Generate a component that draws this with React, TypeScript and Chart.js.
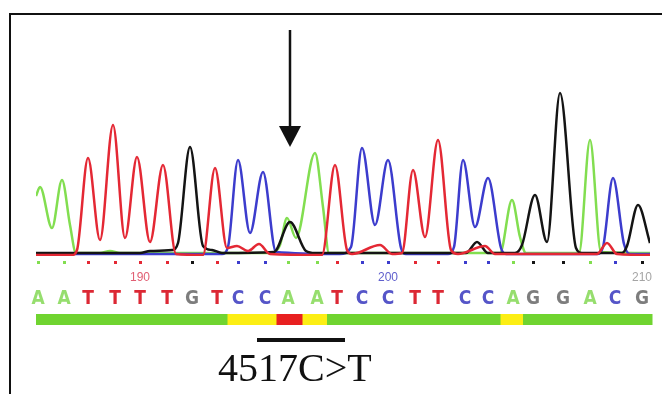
import React, { useEffect, useRef } from "react";
import { Chart, registerables } from "chart.js";

Chart.register(...registerables);

// ---- data ----
const bases = ["A","A","T","T","T","T","G","T","C","C","A","A","T","C","C","T","T","C","C","A","G","G","A","C","G"];
// base-call positions in scan units
const basePositions = [2, 28, 52, 79, 104, 131, 156, 181, 202, 229, 252, 281, 301, 326, 352, 379, 402, 429, 452, 477, 497, 527, 554, 579, 606];
const quality = ["g","g","g","g","g","g","g","g","y","y","r","y","g","g","g","g","g","g","g","y","g","g","g","g","g"];
const tickBaseIndex = [4, 14, 24];
const tickLabels = ["190", "200", "210"];

// traces (scan position, intensity)
const traceAx = [0, 4, 16, 26, 34, 40, 64, 74, 84, 234, 244, 251, 260, 279, 287, 293, 464, 476, 484, 490, 543, 554, 565, 614];
const traceAy = [59, 68, 27, 75, 30, 2, 2, 4, 2, 2, 10, 37, 17, 102, 48, 2, 2, 55, 18, 2, 2, 115, 3, 2];

const traceTx = [0, 36, 41, 52, 64, 77, 89, 101, 114, 127, 140, 167, 179, 191, 201, 212, 223, 234, 286, 299, 311, 316, 344, 356, 366, 377, 389, 402, 415, 422, 449, 459, 561, 571, 581, 614];
const traceTy = [0, 0, 5, 97, 15, 130, 17, 98, 13, 90, 1, 0, 87, 7, 9, 4, 11, 1, 0, 90, 5, 1, 10, 1, 2, 85, 18, 115, 5, 1, 9, 1, 1, 12, 1, 0];

const traceCx = [0, 186, 192, 202, 214, 227, 240, 304, 315, 326, 339, 352, 365, 370, 412, 418, 427, 439, 452, 465, 470, 561, 567, 577, 588, 594, 614];
const traceCy = [1, 1, 8, 95, 22, 83, 3, 1, 8, 107, 30, 95, 7, 1, 1, 8, 95, 28, 77, 7, 1, 1, 8, 77, 11, 1, 1];

const traceGx = [0, 104, 114, 136, 142, 154, 167, 176, 186, 238, 254, 270, 279, 430, 441, 452, 479, 486, 499, 511, 524, 540, 546, 586, 591, 602, 614];
const traceGy = [2, 2, 4, 5, 12, 108, 9, 5, 2, 3, 33, 4, 2, 2, 13, 2, 2, 10, 60, 13, 162, 7, 2, 2, 9, 50, 12];

const arrowScan = 254;
const markStart = 221;
const markEnd = 309;
const captionStart = 182;
const captionText = "4517C>T";

// ---- styles ----
const traceColor: Record<string, string> = {
  A: "rgb(130,222,80)",
  T: "rgb(228,40,52)",
  C: "rgb(60,60,205)",
  G: "rgb(20,20,20)",
};
const letterColor: Record<string, string> = {
  A: "rgb(150,222,110)",
  T: "rgb(220,40,52)",
  C: "rgb(85,85,200)",
  G: "rgb(125,125,125)",
};
const tickColors = ["rgb(225,95,115)", "rgb(95,95,205)", "rgb(165,165,165)"];
const qualityColor: Record<string, string> = {
  g: "rgb(112,212,48)",
  y: "rgb(252,238,20)",
  r: "rgb(232,32,32)",
};

const pts = (xs: number[], ys: number[]) => xs.map((x, i) => ({ x, y: ys[i] }));

const overlayPlugin = {
  id: "overlay",
  beforeDraw(chart: any) {
    const ctx = chart.ctx;
    ctx.save();
    ctx.fillStyle = "#fff";
    ctx.fillRect(0, 0, chart.width, chart.height);
    ctx.strokeStyle = "#111";
    ctx.lineWidth = 2;
    ctx.strokeRect(10, 14, chart.width + 10, chart.height + 10);
    ctx.restore();
  },
  afterDraw(chart: any) {
    const ctx = chart.ctx;
    const area = chart.chartArea;
    const xs = chart.scales.x;
    const b = area.bottom;
    ctx.save();
    // base call dots
    basePositions.forEach((p, i) => {
      ctx.fillStyle = traceColor[bases[i]];
      ctx.fillRect(Math.round(xs.getPixelForValue(p)) - 1, b + 5, 3, 3);
    });
    // letters
    ctx.font = 'bold 19px "Liberation Sans Narrow", "DejaVu Sans Condensed", sans-serif';
    ctx.textAlign = "center";
    ctx.textBaseline = "middle";
    basePositions.forEach((p, i) => {
      ctx.fillStyle = letterColor[bases[i]];
      ctx.fillText(bases[i], xs.getPixelForValue(p), b + 43);
    });
    // quality bar
    const px = basePositions.map((p) => xs.getPixelForValue(p));
    px.forEach((p, i) => {
      const left = i === 0 ? area.left : (px[i - 1] + p) / 2;
      const right = i === px.length - 1 ? Math.min(p + 11, area.right + 2) : (p + px[i + 1]) / 2;
      ctx.fillStyle = qualityColor[quality[i]];
      ctx.fillRect(left, b + 58, right - left + 0.5, 11);
    });
    // arrow
    const ax = Math.round(xs.getPixelForValue(arrowScan));
    ctx.strokeStyle = "#111";
    ctx.lineWidth = 2.5;
    ctx.beginPath();
    ctx.moveTo(ax, 30);
    ctx.lineTo(ax, 128);
    ctx.stroke();
    ctx.fillStyle = "#111";
    ctx.beginPath();
    ctx.moveTo(ax - 11, 126);
    ctx.lineTo(ax + 11, 126);
    ctx.lineTo(ax, 147);
    ctx.closePath();
    ctx.fill();
    // underline
    const u1 = xs.getPixelForValue(markStart);
    const u2 = xs.getPixelForValue(markEnd);
    ctx.fillRect(u1, 338, u2 - u1, 4);
    // caption
    ctx.font = '40px "Liberation Serif", "Times New Roman", serif';
    ctx.textAlign = "left";
    ctx.textBaseline = "alphabetic";
    ctx.fillStyle = "#111";
    ctx.fillText(captionText, xs.getPixelForValue(captionStart), 381);
    ctx.restore();
  },
};

export default function App() {
  const ref = useRef<HTMLCanvasElement>(null);
  useEffect(() => {
    if (!ref.current) return;
    const mk = (key: string, xs: number[], ys: number[]) => ({
      label: key,
      data: pts(xs, ys),
      borderColor: traceColor[key],
      borderWidth: 2.5,
      pointRadius: 0,
      fill: false,
      cubicInterpolationMode: "monotone" as const,
    });
    const chart = new Chart(ref.current, {
      type: "line",
      data: {
        datasets: [
          mk("T", traceTx, traceTy),
          mk("G", traceGx, traceGy),
          mk("C", traceCx, traceCy),
          mk("A", traceAx, traceAy),
        ],
      },
      options: {
        animation: false,
        responsive: false,
        events: [],
        layout: { padding: { left: 36, right: 12, top: 56, bottom: 58 } },
        plugins: {
          legend: { display: false },
          tooltip: { enabled: false },
          title: { display: false },
        },
        scales: {
          x: {
            type: "linear",
            min: 0,
            max: 614,
            grid: { display: false, drawTicks: false },
            border: { display: false },
            afterBuildTicks: (s: any) => {
              s.ticks = tickBaseIndex.map((i) => ({ value: basePositions[i] }));
            },
            afterFit: (s: any) => {
              s.height = 80;
              s.paddingLeft = 0;
              s.paddingRight = 0;
            },
            ticks: {
              autoSkip: false,
              maxRotation: 0,
              padding: 14,
              font: { family: '"Liberation Sans Narrow", "Liberation Sans", sans-serif', size: 12 },
              color: (c: any) => tickColors[c.index] || "#999",
              callback: (_v: any, i: number) => tickLabels[i],
            },
          },
          y: { display: false, min: -1, max: 199 },
        },
      },
      plugins: [overlayPlugin],
    });
    return () => chart.destroy();
  }, []);
  return (
    <div style={{ position: "absolute", left: 0, top: 0, width: 662, height: 394, background: "#fff" }}>
      <canvas ref={ref} width={662} height={394} style={{ display: "block", width: 662, height: 394 }} />
    </div>
  );
}
